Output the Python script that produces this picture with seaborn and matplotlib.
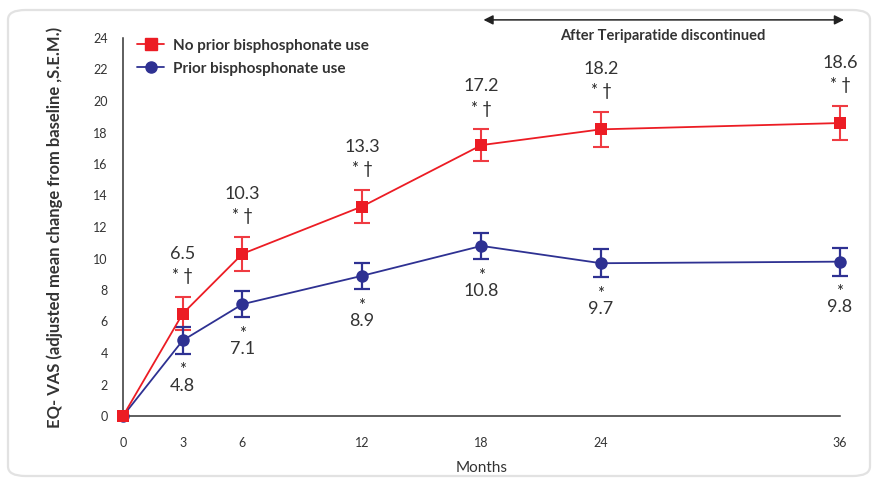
import matplotlib
matplotlib.use("Agg")
import matplotlib.pyplot as plt
from matplotlib.patches import FancyBboxPatch
from matplotlib.lines import Line2D
import seaborn as sns
import pandas as pd

# Data: adjusted mean change in EQ-VAS from baseline, with S.E.M.
months = [0, 3, 6, 12, 18, 24, 36]
no_prior_mean = [0.0, 6.5, 10.3, 13.3, 17.2, 18.2, 18.6]
no_prior_sem = [0.0, 1.05, 1.08, 1.05, 1.0, 1.1, 1.1]
prior_mean = [0.0, 4.8, 7.1, 8.9, 10.8, 9.7, 9.8]
prior_sem = [0.0, 0.85, 0.84, 0.84, 0.85, 0.88, 0.88]
no_prior_marks = ["", "* \u2020", "* \u2020", "* \u2020", "* \u2020", "* \u2020", "* \u2020"]
prior_marks = ["", "*", "*", "*", "*", "*", "*"]
x_tick_positions = list(range(0, 37, 3))
x_tick_labels = ["0", "3", "6", "", "12", "", "18", "", "24", "", "", "", "36"]
series_names = ["No prior bisphosphonate use", "Prior bisphosphonate use"]

RED = "#ec1c24"
RED_BAR = "#ef3b42"
BLUE = "#2e3192"
TEXT = "#333333"

sns.set_theme(style="white")
plt.rcParams["font.family"] = ["Lato", "DejaVu Sans"]

df = pd.concat([
    pd.DataFrame({"Months": months, "value": no_prior_mean, "group": series_names[0]}),
    pd.DataFrame({"Months": months, "value": prior_mean, "group": series_names[1]}),
])

fig = plt.figure(figsize=(8.73, 4.78), dpi=100)
ax = fig.add_axes([123 / 873, 62 / 478, 717 / 873, 378 / 478])

# Rounded panel outline behind the chart
panel = FancyBboxPatch((8 / 873, 2 / 478), 862 / 873, 466 / 478,
                       boxstyle="round,pad=0,rounding_size=0.02",
                       transform=fig.transFigure, facecolor="none",
                       edgecolor="#e2e2e2", linewidth=1.6, zorder=-10)
fig.patches.append(panel)

# Error bars (S.E.M.)
ax.errorbar(months[1:], prior_mean[1:], yerr=prior_sem[1:], fmt="none",
            ecolor=BLUE, elinewidth=1.6, capsize=6, capthick=1.6, zorder=3, clip_on=False)
ax.errorbar(months[1:], no_prior_mean[1:], yerr=no_prior_sem[1:], fmt="none",
            ecolor=RED_BAR, elinewidth=1.5, capsize=6, capthick=1.5, zorder=2, clip_on=False)

sns.lineplot(data=df, x="Months", y="value", hue="group", style="group",
             hue_order=series_names[::-1], style_order=series_names[::-1],
             palette={series_names[0]: RED, series_names[1]: BLUE},
             markers={series_names[0]: "s", series_names[1]: "o"},
             dashes=False, markersize=9, markeredgewidth=0, linewidth=1.3,
             ax=ax, legend=False, zorder=4, clip_on=False)

# Put the red series above the blue one
for line in ax.lines:
    if line.get_color() == RED:
        line.set_zorder(5)

# Value labels
for m, v, e, mk in zip(months, no_prior_mean, no_prior_sem, no_prior_marks):
    if not mk:
        continue
    ax.annotate(mk, (m, v + e), xytext=(0, 15), textcoords="offset points",
                ha="center", va="center", fontsize=12, color="#222222")
    ax.annotate(f"{v:.1f}", (m, v + e), xytext=(0, 31), textcoords="offset points",
                ha="center", va="center", fontsize=13, color=TEXT)
for m, v, e, mk in zip(months, prior_mean, prior_sem, prior_marks):
    if not mk:
        continue
    ax.annotate(mk, (m, v - e), xytext=(0, -12), textcoords="offset points",
                ha="center", va="center", fontsize=12, color="#222222")
    ax.annotate(f"{v:.1f}", (m, v - e), xytext=(0, -23), textcoords="offset points",
                ha="center", va="center", fontsize=13, color=TEXT)

# Axes styling
ax.set_xlim(0, 36)
ax.set_ylim(0, 24)
ax.set_xticks(x_tick_positions)
ax.set_xticklabels(x_tick_labels)
ax.set_yticks(range(0, 25, 2))
ax.tick_params(axis="both", direction="out", length=5, width=1.1, color=TEXT,
               labelsize=9, labelcolor=TEXT, pad=6)
ax.tick_params(axis="x", pad=10)
sns.despine(ax=ax)
for s in ("left", "bottom"):
    ax.spines[s].set_color(TEXT)
    ax.spines[s].set_linewidth(1.1)

ax.set_xlabel("Months", fontsize=11, color=TEXT, labelpad=9)
ax.set_ylabel("EQ- VAS (adjusted mean change from baseline ,S.E.M.)",
              fontsize=12, fontweight="bold", color=TEXT)
ax.yaxis.set_label_coords(-0.083, 0.5)

# Legend
handles = [Line2D([], [], color=RED, marker="s", markersize=8, linewidth=1.3),
           Line2D([], [], color=BLUE, marker="o", markersize=8, linewidth=1.3)]
leg = ax.legend(handles, series_names, loc="upper left", bbox_to_anchor=(0.0, 1.035),
                frameon=False, handlelength=1.8, handletextpad=0.55, labelspacing=0.6,
                prop={"weight": "bold", "size": 11})
for t in leg.get_texts():
    t.set_color(TEXT)

# Discontinuation period arrow
ax.annotate("", xy=(36.2, 25.15), xytext=(18.1, 25.15), xycoords="data",
            arrowprops=dict(arrowstyle="<|-|>", color="#222222", lw=1.1,
                            mutation_scale=14, shrinkA=0, shrinkB=0),
            annotation_clip=False)
ax.text(27.1, 24.15, "After Teriparatide discontinued", ha="center", va="center",
        fontsize=10.5, fontweight="bold", color=TEXT, clip_on=False)

fig.savefig("out.png", dpi=100)
